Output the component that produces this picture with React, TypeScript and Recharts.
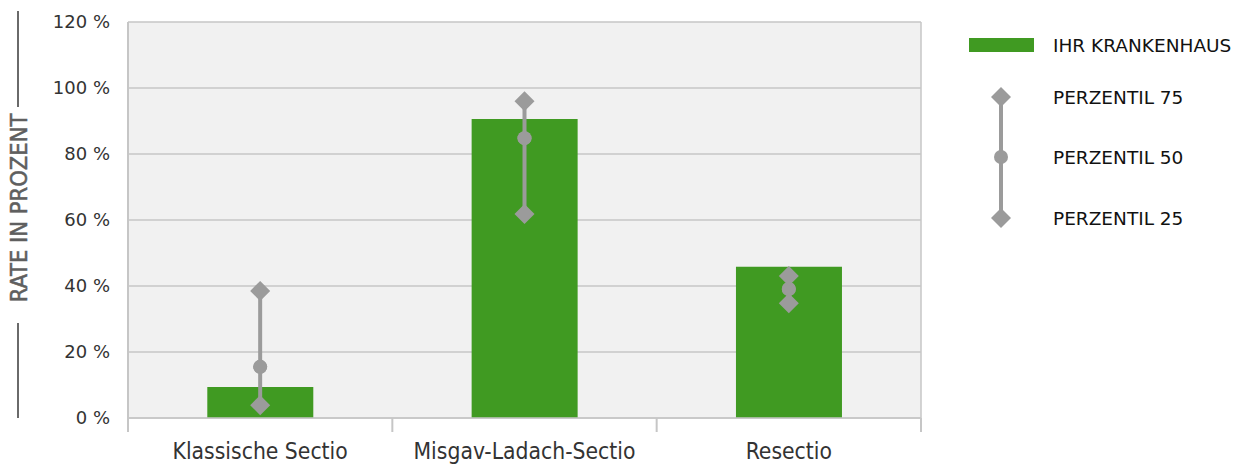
import React from "react";
import { ComposedChart, Bar, Line, XAxis, YAxis, CartesianGrid, ErrorBar } from "recharts";

// Werte (Rate in %)
const categories = ["Klassische Sectio", "Misgav-Ladach-Sectio", "Resectio"];
const hospitalRate = [9.4, 90.6, 45.8];
const perzentil25 = [3.9, 61.8, 34.8];
const perzentil50 = [15.5, 84.8, 39.1];
const perzentil75 = [38.5, 96, 43];
const yTicks = [0, 20, 40, 60, 80, 100, 120];

const legendItems = ["IHR KRANKENHAUS", "PERZENTIL 75", "PERZENTIL 50", "PERZENTIL 25"];

const data = categories.map((name, i) => ({
  name,
  rate: hospitalRate[i],
  p25: perzentil25[i],
  p50: perzentil50[i],
  p75: perzentil75[i],
  spread: [perzentil50[i] - perzentil25[i], perzentil75[i] - perzentil50[i]],
}));

const WIDTH = 1239;
const HEIGHT = 464;
const MARGIN = { top: 22, right: 318, left: 0, bottom: 0 };
const Y_AXIS_W = 128;
const X_AXIS_H = 46;
const BAND = (WIDTH - MARGIN.left - MARGIN.right - Y_AXIS_W) / categories.length;

const GREEN = "#409a22";
const GREY = "#9b9b9b";
const GRID = "#c6c6c6";
const narrow = "'DejaVu Sans Condensed', sans-serif";
const sans = "'DejaVu Sans', sans-serif";

const CategoryTick = (props: any) => {
  const { x, y, payload, index } = props;
  const half = BAND / 2;
  return (
    <g>
      <line x1={x - half} x2={x - half} y1={y} y2={y + 14} stroke={GRID} strokeWidth={2} />
      {index === categories.length - 1 && (
        <line x1={x + half} x2={x + half} y1={y} y2={y + 14} stroke={GRID} strokeWidth={2} />
      )}
      <text x={x} y={y + 41} textAnchor="middle" fontFamily={narrow} fontSize={22.7} fill="#333">
        {payload.value}
      </text>
    </g>
  );
};

const AxisTitle = () => (
  <g>
    <line x1={18} x2={18} y1={11} y2={107} stroke="#6a6a6a" strokeWidth={2} />
    <line x1={18} x2={18} y1={323} y2={418} stroke="#6a6a6a" strokeWidth={2} />
    <text
      x={19}
      y={208}
      transform="rotate(-90 19 208)"
      textAnchor="middle"
      dominantBaseline="central"
      fontFamily={narrow}
      fontSize={23.5}
      stroke="#5f5f5f"
      strokeWidth={0.5}
      fill="#5f5f5f"
    >
      RATE IN PROZENT
    </text>
  </g>
);

const Diamond = (props: any) => {
  const { cx, cy } = props;
  if (cx == null || cy == null) return <g />;
  const r = 10;
  return <path d={`M${cx},${cy - r}L${cx + r},${cy}L${cx},${cy + r}L${cx - r},${cy}Z`} fill={GREY} />;
};

const Dot = (props: any) => {
  const { cx, cy } = props;
  if (cx == null || cy == null) return <g />;
  return <circle cx={cx} cy={cy} r={7} fill={GREY} />;
};

const LegendBox = () => (
  <svg width={299} height={260} style={{ position: "absolute", left: 940, top: 0 }}>
    <rect x={29} y={38} width={65} height={14} fill={GREEN} />
    <line x1={61} x2={61} y1={98} y2={218} stroke={GREY} strokeWidth={4} />
    <Diamond cx={61} cy={97} />
    <Dot cx={61} cy={157} />
    <Diamond cx={61} cy={218} />
    {legendItems.map((label, i) => (
      <text
        key={label}
        x={113}
        y={[45, 97, 157, 218][i]}
        dominantBaseline="central"
        fontFamily={sans}
        fontSize={18.5}
        fill="#111"
      >
        {label}
      </text>
    ))}
  </svg>
);

export default function App() {
  return (
    <div style={{ position: "absolute", left: 0, top: 0, width: WIDTH, height: HEIGHT }}>
      <ComposedChart width={WIDTH} height={HEIGHT} data={data} margin={MARGIN} barCategoryGap="30%">
        <CartesianGrid
          fill="#f1f1f1"
          stroke={GRID}
          strokeWidth={1.5}
          verticalCoordinatesGenerator={({ offset }: any) => [offset.left + offset.width]}
        />
        <XAxis
          dataKey="name"
          height={X_AXIS_H}
          tickLine={false}
          tickSize={0}
          tickMargin={0}
          axisLine={{ stroke: GRID, strokeWidth: 1.5 }}
          tick={<CategoryTick />}
          interval={0}
        />
        <YAxis
          width={Y_AXIS_W}
          domain={[0, 120]}
          ticks={yTicks}
          tickFormatter={(v) => `${v} %`}
          tickLine={false}
          tickSize={0}
          tickMargin={18}
          axisLine={{ stroke: GRID, strokeWidth: 2 }}
          tick={{ fontFamily: sans, fontSize: 18, fill: "#333" }}
          label={<AxisTitle />}
        />
        <Bar dataKey="rate" fill={GREEN} isAnimationActive={false} />
        <Line
          dataKey="p50"
          stroke="none"
          strokeWidth={0}
          dot={<Dot />}
          activeDot={false}
          isAnimationActive={false}
        >
          <ErrorBar dataKey="spread" direction="y" width={0} stroke={GREY} strokeWidth={4} />
        </Line>
        <Line dataKey="p50" stroke="none" dot={<Dot />} activeDot={false} isAnimationActive={false} />
        <Line dataKey="p75" stroke="none" dot={<Diamond />} activeDot={false} isAnimationActive={false} />
        <Line dataKey="p25" stroke="none" dot={<Diamond />} activeDot={false} isAnimationActive={false} />
      </ComposedChart>
      <LegendBox />
    </div>
  );
}
